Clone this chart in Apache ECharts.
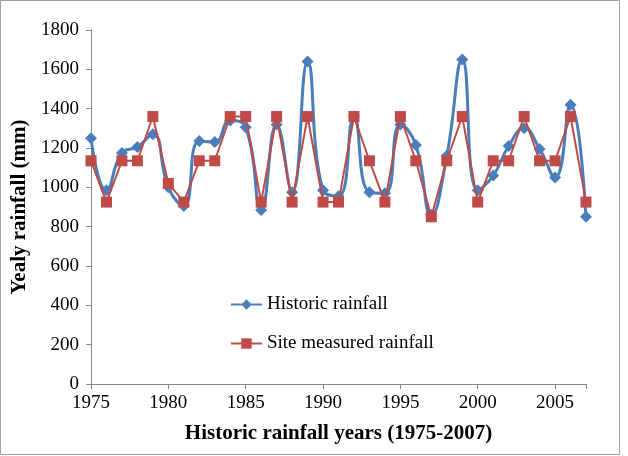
<!DOCTYPE html>
<html>
<head>
<meta charset="utf-8">
<script src="https://cdn.jsdelivr.net/npm/echarts@6/dist/echarts.min.js"></script>
<style>
html, body { margin: 0; padding: 0; background: #fff; }
#main { width: 628px; height: 456px; }
</style>
</head>
<body>
<div id="main"></div>
<script>
// years 1975-2007
var years = [];
for (var y = 1975; y <= 2007; y++) years.push(y);

var historic = [1250, 985, 1175, 1205, 1270, 1000, 905, 1235, 1230, 1340, 1305, 885, 1320, 975, 1640, 985, 955, 1360, 975, 970, 1320, 1215, 860, 1160, 1650, 985, 1060, 1210, 1300, 1195, 1050, 1420, 850];
var siteMeasured = [1135, 925, 1135, 1135, 1360, 1020, 925, 1135, 1135, 1360, 1360, 925, 1360, 925, 1360, 925, 925, 1360, 1135, 925, 1360, 1135, 850, 1135, 1360, 925, 1135, 1135, 1360, 1135, 1135, 1360, 925];

var seriesNames = ['Historic rainfall', 'Site measured rainfall'];

function pairs(vals) {
  return years.map(function (yr, i) { return [yr, vals[i]]; });
}

var font = '"Liberation Serif", "Times New Roman", serif';
var chart = echarts.init(document.getElementById('main'));
chart.setOption({
  backgroundColor: '#fff',
  animation: false,
  graphic: [{
    type: 'rect',
    shape: { x: 0.5, y: 0.5, width: 619, height: 454 },
    style: { fill: 'none', stroke: '#a0a0a0', lineWidth: 1 }
  }],
  grid: { left: 91, right: 42, top: 30, bottom: 72 },
  legend: {
    orient: 'vertical',
    left: 225,
    top: 290,
    itemGap: 20,
    itemWidth: 31,
    itemHeight: 13,
    textStyle: { fontFamily: font, fontSize: 19, color: '#000' },
    data: seriesNames
  },
  xAxis: {
    type: 'value',
    min: 1975,
    max: 2007,
    interval: 5,
    name: 'Historic rainfall years (1975-2007)',
    nameLocation: 'middle',
    nameGap: 39,
    nameTextStyle: { fontFamily: font, fontSize: 21, fontWeight: 'bold', color: '#000' },
    axisLine: { lineStyle: { color: '#868686' } },
    axisTick: { show: true, length: 5, lineStyle: { color: '#868686' } },
    axisLabel: {
      fontFamily: font, fontSize: 19, color: '#000', margin: 10,
      formatter: function (v) { return v % 5 === 0 ? String(v) : ''; }
    },
    splitLine: { show: false }
  },
  yAxis: {
    type: 'value',
    min: 0,
    max: 1800,
    interval: 200,
    name: 'Yealy rainfall (mm)',
    nameLocation: 'middle',
    nameGap: 55,
    nameTextStyle: { fontFamily: font, fontSize: 21, fontWeight: 'bold', color: '#000' },
    axisLine: { show: true, lineStyle: { color: '#868686' } },
    axisTick: { show: true, length: 5, lineStyle: { color: '#868686' } },
    axisLabel: {
      fontFamily: font, fontSize: 19, color: '#000', margin: 12,
      formatter: function (v) { return String(v); }
    },
    splitLine: { show: false }
  },
  series: [
    {
      name: seriesNames[0],
      type: 'line',
      smooth: 0.5,
      data: pairs(historic),
      symbol: 'diamond',
      symbolSize: 12,
      itemStyle: { color: '#4a7ebb' },
      lineStyle: { width: 3, color: '#4a7ebb' },
      z: 2
    },
    {
      name: seriesNames[1],
      type: 'line',
      data: pairs(siteMeasured),
      symbol: 'rect',
      symbolSize: 11,
      itemStyle: { color: '#be4b48' },
      lineStyle: { width: 2, color: '#be4b48' },
      z: 3
    }
  ]
});
</script>
</body>
</html>
